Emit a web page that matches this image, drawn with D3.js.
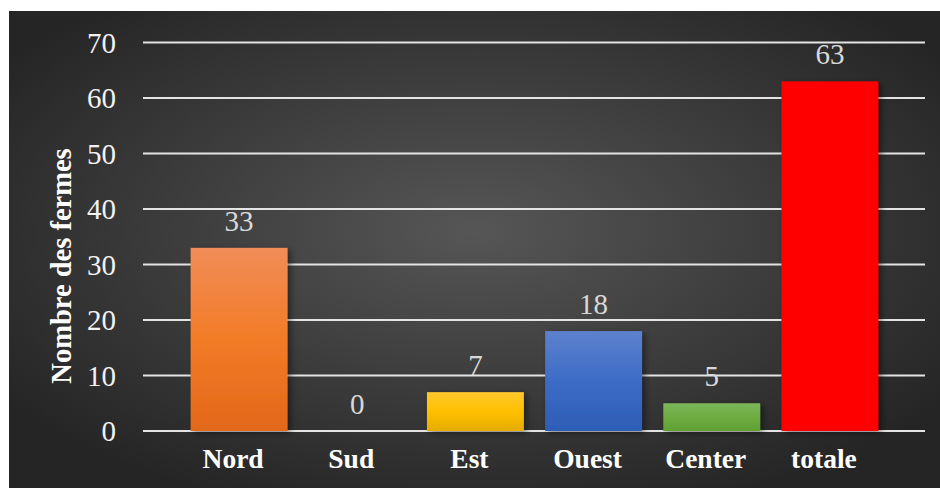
<!DOCTYPE html>
<html>
<head>
<meta charset="utf-8">
<script src="https://cdn.jsdelivr.net/npm/d3@7"></script>
<style>
  html, body { margin: 0; padding: 0; background: #ffffff; }
  svg { display: block; }
  text { font-family: "Liberation Serif", "DejaVu Serif", serif; }
</style>
</head>
<body>
<svg id="chart" width="940" height="488"></svg>
<script>
// Farm counts by region
const categories = ["Nord", "Sud", "Est", "Ouest", "Center", "totale"];
const values = [33, 0, 7, 18, 5, 63];
const yTicks = [0, 10, 20, 30, 40, 50, 60, 70];
const yTitle = "Nombre des fermes";

// bar fills: [top, middle, bottom] gradient stops
const barColors = [
  ["#f18d58", "#f27b27", "#e2681a"],
  ["#9e9e9e", "#9e9e9e", "#9e9e9e"],
  ["#ffc72e", "#ffc000", "#e5ac00"],
  ["#5d81cd", "#3c6cc6", "#2e5db5"],
  ["#7cb65a", "#6eac42", "#5fa032"],
  ["#ff0000", "#ff0000", "#ff0000"]
];

const svg = d3.select("#chart");
const font = "Liberation Serif, DejaVu Serif, serif";

const defs = svg.append("defs");
const bg = defs.append("radialGradient").attr("id", "bg")
  .attr("cx", "50%").attr("cy", "46%").attr("r", "62%");
bg.append("stop").attr("offset", "0%").attr("stop-color", "#565656");
bg.append("stop").attr("offset", "100%").attr("stop-color", "#252525");

barColors.forEach((c, i) => {
  const g = defs.append("linearGradient").attr("id", "bar" + i)
    .attr("x1", 0).attr("y1", 0).attr("x2", 0).attr("y2", 1);
  g.append("stop").attr("offset", "0%").attr("stop-color", c[0]);
  g.append("stop").attr("offset", "50%").attr("stop-color", c[1]);
  g.append("stop").attr("offset", "100%").attr("stop-color", c[2]);
});

const shadow = defs.append("filter").attr("id", "shadow")
  .attr("x", "-20%").attr("y", "-10%").attr("width", "150%").attr("height", "130%");
shadow.append("feDropShadow").attr("dx", 3).attr("dy", 2)
  .attr("stdDeviation", 3).attr("flood-color", "#000").attr("flood-opacity", 0.45);

// chart area
svg.append("rect").attr("x", 9).attr("y", 11).attr("width", 931).attr("height", 477)
  .attr("fill", "url(#bg)");

const gridLeft = 143, gridRight = 925;
const x = d3.scaleBand().domain(categories).range([180, 889]).paddingInner(0.18).paddingOuter(0.09);
const y = d3.scaleLinear().domain([0, 70]).range([431, 42.5]);

// gridlines
svg.append("g").selectAll("line").data(yTicks).join("line")
  .attr("x1", gridLeft).attr("x2", gridRight)
  .attr("y1", d => y(d)).attr("y2", d => y(d))
  .attr("stroke", "#e4e4e4").attr("stroke-width", 2);

// y axis tick labels
const yAxis = d3.axisLeft(y).tickValues(yTicks).tickSize(0).tickPadding(0);
const yg = svg.append("g").attr("transform", "translate(116,0)").call(yAxis);
yg.attr("font-family", null);
yg.select(".domain").remove();
yg.selectAll("text")
  .style("font-family", font).attr("font-size", 29).attr("fill", "#f2f2f2")
  .attr("dy", "0.34em");

// bars
const data = categories.map((c, i) => ({ c, v: values[i], i }));
svg.append("g").selectAll("rect").data(data.filter(d => d.v > 0)).join("rect")
  .attr("x", d => x(d.c)).attr("width", x.bandwidth())
  .attr("y", d => y(d.v)).attr("height", d => y(0) - y(d.v))
  .attr("fill", d => "url(#bar" + d.i + ")")
  .attr("filter", "url(#shadow)");

// value labels
svg.append("g").selectAll("text").data(data).join("text")
  .attr("x", d => x(d.c) + x.bandwidth() / 2)
  .attr("y", d => y(d.v) - 17)
  .attr("text-anchor", "middle")
  .style("font-family", font).attr("font-size", 29).attr("fill", "#d9d9d9")
  .text(d => d.v);

// category labels
const xAxis = d3.axisBottom(x).tickSize(0).tickPadding(0);
const xg = svg.append("g").call(xAxis);
xg.attr("font-family", null);
xg.select(".domain").remove();
xg.selectAll("text")
  .attr("y", 468).attr("dy", 0).attr("dx", -6)
  .style("font-family", font).attr("font-size", 27.5).attr("font-weight", "bold")
  .attr("fill", "#ffffff");

// y axis title
svg.append("text")
  .attr("transform", "translate(71,266) rotate(-90)")
  .attr("text-anchor", "middle")
  .style("font-family", font).attr("font-size", 28.5).attr("font-weight", "bold")
  .attr("fill", "#ffffff")
  .text(yTitle);
</script>
</body>
</html>
